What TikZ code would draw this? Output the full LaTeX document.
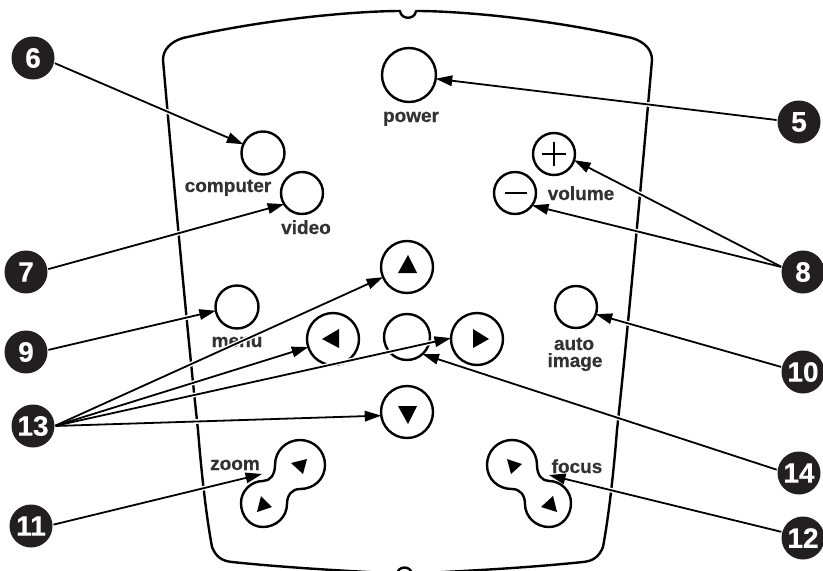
\documentclass[tikz,border=0pt]{standalone}
\usepackage{fontspec}
\setmainfont{Liberation Sans}[BoldFeatures={FakeBold=0.4}]
\usetikzlibrary{arrows.meta}
\definecolor{ink}{HTML}{231F20}
\definecolor{lab}{HTML}{333132}
\tikzset{
  outline/.style={draw=black,line width=2.4pt,line cap=round,line join=round},
  btn/.style={circle,draw=black,line width=2.4pt,inner sep=0pt,outer sep=0pt,minimum size=#1},
  tri/.style={fill=black,draw=none},
  badge/.style={circle,fill=ink,text=white,inner sep=0pt,outer sep=0pt,minimum size=43pt,font=\fontsize{28}{28}\selectfont\bfseries},
  lbl/.style={text=lab,inner sep=0pt,anchor=base,font=\fontsize{19}{19}\selectfont\bfseries},
  halo/.style={draw=white,line width=4.6pt,shorten >=12pt,shorten <=2pt},
  arrowline/.style={draw=black,line width=1.8pt,-{Triangle[length=16.5pt,width=10.5pt]},shorten <=1pt},
}
\begin{document}
\begin{tikzpicture}[x=1pt,y=-1pt]
\clip (0,0) rectangle (823,571);
\fill[white] (0,0) rectangle (823,571);
% body outline
\draw[outline] (400,11) .. controls (360,11) and (270,18) .. (183,38)
  .. controls (170,42) and (163,50) .. (163,60)
  .. controls (170,140) and (186,320) .. (198,430)
  .. controls (202,480) and (207,520) .. (212,547)
  .. controls (216,557) and (222,561) .. (232,562)
  .. controls (280,567) and (330,570) .. (385,573);
\draw[outline] (417,11) .. controls (457,11) and (545,18) .. (632,38)
  .. controls (645,42) and (652,50) .. (652,60)
  .. controls (645,140) and (629,320) .. (617,430)
  .. controls (613,480) and (608,520) .. (603,547)
  .. controls (599,557) and (593,561) .. (583,562)
  .. controls (535,567) and (485,570) .. (425,573);
\draw[outline] (400,11) .. controls (401,20) and (415,20) .. (416,11);
\draw[outline] (397,575) .. controls (397,565) and (412,565) .. (412,575);
% buttons
\node[btn=54pt] (power) at (409,75) {};
\node[btn=43pt] (computer) at (263,153) {};
\node[btn=42pt] (video) at (302,193) {};
\node[btn=42pt] (plus) at (554,154) {};
\node[btn=42pt] (minus) at (515,193) {};
\node[btn=43pt] (menu) at (237,307) {};
\node[btn=42pt] (auto) at (576,307) {};
\node[btn=52pt] (up) at (407,267) {};
\node[btn=52pt] (left) at (333,339) {};
\node[btn=46pt] (center) at (407,337) {};
\node[btn=52pt] (right) at (477,339) {};
\node[btn=52pt] (down) at (407,412) {};
% plus and minus marks
\draw[line width=1.3pt] (542,154) -- (566,154) (554,142) -- (554,166);
\draw[line width=1.3pt] (505,193) -- (527,193);
% arrow triangles
\fill[tri] (408,255) -- (417,273) -- (398,273) -- cycle;
\fill[tri] (322,339) -- (339,329) -- (339,348) -- cycle;
\fill[tri] (489,339) -- (473,329) -- (473,348) -- cycle;
\fill[tri] (398,406) -- (417,406) -- (408,424) -- cycle;
% zoom and focus rockers
\def\rocker{(275,465) .. controls (275,451) and (286,440) .. (300,440)
  .. controls (314,440) and (325,451) .. (325,465)
  .. controls (325,479) and (314,489) .. (300,489)
  .. controls (292,489) and (287,495) .. (287,504)
  .. controls (287,517) and (276,527) .. (263,527)
  .. controls (250,527) and (241,516) .. (241,503)
  .. controls (241,491) and (251,481) .. (263,481)
  .. controls (270,481) and (275,475) .. (275,465) -- cycle}
\draw[outline] \rocker;
\begin{scope}[xshift=812pt,xscale=-1]
\draw[outline] \rocker;
\end{scope}
\fill[tri] (291,463) -- (307,459) -- (303,474) -- cycle;
\fill[tri] (261,496) -- (272,507) -- (257,512) -- cycle;
\fill[tri] (507,459) -- (522,464) -- (511,474) -- cycle;
\fill[tri] (553,496) -- (557,512) -- (541,507) -- cycle;
% labels
\node[lbl] (lpower) at (411,122) {power};
\node[lbl] (lcomputer) at (228,192) {computer};
\node[lbl] (lvideo) at (306,234) {video};
\node[lbl] (lvolume) at (581,200) {volume};
\node[lbl] (lmenu) at (237,347) {menu};
\node[lbl] (lauto) at (574,350) {auto};
\node[lbl] (limage) at (575,367) {image};
\node[lbl] (lzoom) at (235,470) {zoom};
\node[lbl] (lfocus) at (577,473) {focus};
% callouts
\node[badge] (b6) at (33,58) {6};
\node[badge] (b7) at (26,272) {7};
\node[badge] (b9) at (26,352) {9};
\node[badge] (b13) at (33,426) {13};
\node[badge] (b11) at (31,526) {11};
\node[badge] (b5) at (799,122) {5};
\node[badge] (b8) at (803,272) {8};
\node[badge] (b10) at (803,372) {10};
\node[badge] (b14) at (799,473) {14};
\node[badge] (b12) at (803,538) {12};
\coordinate (ztip) at (262,474);
\coordinate (ftip) at (549,475);
\foreach \st in {halo,arrowline}
  \foreach \a/\b in {b6.-13/computer.156.5, b7.7/video.212, b9.5/menu.190.8,
     b11.3/ztip, b5.175/power.-8, b8.167/plus.-17.6, b8.167/minus.-36,
     b10.167/auto.-20, b14.172/center.-48, b12.164/ftip,
     b13.0/up.203.7, b13.0/left.198, b13.0/right.178, b13.0/down.188}
    \draw[\st] (\a) -- (\b);
\end{tikzpicture}
\end{document}
